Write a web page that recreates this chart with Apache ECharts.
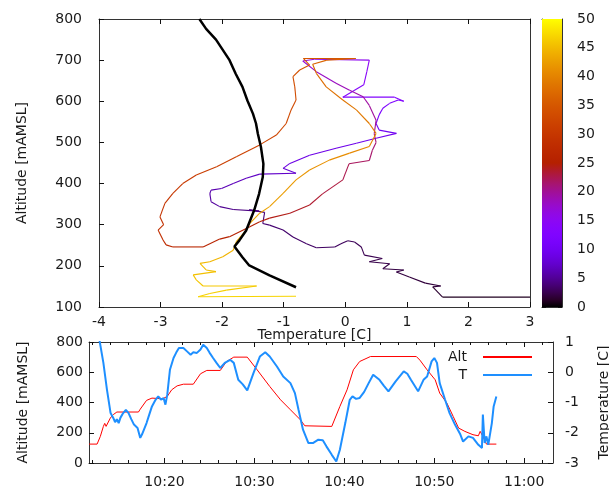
<!DOCTYPE html>
<html><head><meta charset="utf-8">
<script src="https://cdn.jsdelivr.net/npm/echarts@6/dist/echarts.min.js"></script>
<style>html,body{margin:0;padding:0;background:#fff}#c{width:609px;height:491px}</style>
</head><body><div id="c"></div>
<script>
// ---------------- data ----------------
// top panel: flight trajectory (temperature, altitude, minutes since start -> colour)
const trajT = [3.00,1.58,1.42,1.55,1.30,1.04,0.83,0.95,0.61,0.72,0.39,0.60,0.31,0.26,0.15,0.04,-0.07,-0.17,-0.47,-0.63,
  -0.85,-1.01,-1.23,-1.34,-1.31,-1.56,-1.40,-1.82,-2.04,-2.18,-2.20,-2.18,-2.01,-1.82,-1.61,-1.39,-0.80,-1.01,-0.90,-0.58,
  -0.15,0.18,0.50,0.83,0.55,0.50,0.55,0.61,0.72,0.86,0.95,0.80,-0.04,0.30,0.35,0.39,-0.50,-0.69,-0.47,-0.15,
  0.07,0.29,0.39,0.50,0.47,0.50,0.44,0.39,0.06,-0.04,-0.37,-0.58,-0.90,-1.23,-1.39,-1.55,-1.88,-2.04,-2.31,-2.80,
  -2.91,-2.96,-3.04,-2.95,-3.01,-2.93,-2.80,-2.64,-2.42,-2.09,-1.77,-1.39,-1.12,-0.96,-0.88,-0.80,-0.82,-0.85,-0.74,-0.58,
  -0.68,0.17,-0.30,-0.53,-0.47,-0.31,-0.04,0.18,0.39,0.50,0.39,0.07,-0.26,-0.58,-0.80,-1.01,-1.23,-1.39,-1.55,-1.61,
  -1.77,-1.82,-1.99,-2.20,-2.36,-2.26,-2.10,-2.47,-2.42,-2.31,-1.44,-1.93,-2.20,-2.39,-0.80];
const trajAlt = [124,124,149,151,158,173,185,190,193,205,210,218,226,246,258,261,254,246,244,254,
  270,287,299,303,330,336,333,337,344,356,376,384,388,400,413,423,425,437,449,469,
  486,498,510,522,530,546,567,583,595,603,600,610,610,640,672,700,702,698,672,644,
  627,611,590,554,521,500,481,456,448,409,375,348,328,316,307,295,271,265,246,246,
  251,263,287,300,319,352,376,400,421,441,465,494,518,546,579,603,635,660,676,688,
  704,704,700,690,668,635,603,579,546,522,490,474,457,433,409,376,344,328,303,287,
  259,238,222,210,206,190,186,178,166,151,151,141,133,125,126];
const trajMin = [1.0,1.5,1.8,1.85,1.9,2.0,2.1,2.15,2.2,2.3,2.4,2.5,2.6,2.7,2.8,2.9,3.0,3.1,3.2,3.3,
  3.4,3.6,3.7,3.8,3.9,4.2,4.3,4.8,5.3,5.6,5.9,6.1,6.4,6.7,7.0,7.3,7.8,8.6,8.9,9.1,
  9.3,9.5,9.7,9.9,10.5,11.0,11.6,12.0,12.4,12.8,12.9,13.0,13.6,14.2,14.8,15.3,16.5,17.0,18.0,18.5,
  19.0,19.4,19.8,20.3,21.0,21.3,21.6,22.0,22.5,23.0,23.5,23.9,24.3,24.7,25.0,25.3,25.7,26.0,26.4,27.5,
  28.0,28.4,28.8,29.0,29.3,29.8,30.2,30.6,31.0,31.4,31.8,32.2,32.6,32.9,33.2,33.5,33.8,34.1,34.4,34.7,
  35.0,36.0,36.5,37.0,37.5,38.0,38.5,39.0,39.5,40.0,40.5,41.0,41.4,41.8,42.2,42.6,43.0,43.3,43.6,43.8,
  44.1,44.4,44.7,45.0,45.2,45.4,45.5,45.7,45.9,46.1,46.4,46.6,46.8,47.0,47.5];
// top panel: black reference profile
const profT = [-2.37,-2.26,-2.10,-1.88,-1.78,-1.67,-1.59,-1.50,-1.45,-1.42,-1.37,-1.33,-1.34,-1.40,-1.48,-1.61,-1.72,-1.80,-1.67,-1.56,-1.23,-0.80];
const profAlt = [800,776,750,700,667,635,602,570,546,521,489,448,416,375,335,286,262,247,221,201,177,148];
// bottom panel: altitude vs time (minutes of day)
const altTime = [611.6,612.5,612.86,613.2,613.35,613.5,613.97,614.3,614.7,617.1,617.3,618.0,618.6,619.8,620.3,620.8,621.4,622.1,623.2,624.0,
  624.7,626.2,626.9,627.7,629.2,630.3,631.7,632.9,634.0,635.1,635.6,638.6,639.5,640.3,641.0,641.7,642.9,648.0,648.4,649.2,
  650.1,650.6,651.4,652.1,652.7,653.4,654.3,654.9,655.1,655.4,655.8,656.9];
const altVals = [125,125,176,242,262,242,297,320,337,337,356,414,429,425,440,484,510,521,521,590,
  612,612,671,700,700,616,506,418,352,286,246,242,374,484,616,671,704,704,680,616,
  550,462,396,308,231,209,187,180,209,176,125,125];
// bottom panel: temperature vs time
const tTime = [612.5,612.8,613.2,613.6,614.0,614.3,614.5,614.7,614.9,615.1,615.4,615.7,616.0,616.3,616.6,617.0,617.3,617.5,617.7,618.0,
  618.3,618.6,619.0,619.3,619.6,619.9,620.1,620.3,620.6,621.0,621.3,621.6,622.1,622.5,622.9,623.2,623.6,624.0,624.3,624.7,
  625.0,625.4,625.8,626.2,626.7,627.3,627.7,628.2,628.7,629.2,629.9,630.6,631.2,631.7,632.5,633.2,634.0,634.5,634.9,635.4,
  636.0,636.5,637.1,637.6,638.0,638.6,639.1,639.5,640.1,640.6,640.9,641.3,641.7,642.2,642.7,643.2,643.9,644.4,644.9,645.7,
  646.6,647.0,647.4,648.2,648.8,649.2,649.7,650.0,650.3,650.6,651.2,651.7,652.3,652.9,653.2,653.8,654.3,654.9,655.3,655.4,
  655.6,655.8,656.0,656.4,656.6,656.9];
const tVals = [1.5,1.0,0.31,-0.58,-1.35,-1.51,-1.65,-1.55,-1.68,-1.50,-1.35,-1.24,-1.35,-1.55,-1.73,-1.84,-2.17,-2.05,-2.01,-1.68,
  -1.40,-1.13,-0.91,-0.80,-0.90,-0.86,-1.07,-0.75,0.08,0.47,0.65,0.80,0.80,0.69,0.58,0.66,0.64,0.75,0.91,0.80,
  0.65,0.47,0.30,0.14,0.31,0.41,0.31,-0.25,-0.40,-0.60,-0.02,0.52,0.66,0.52,0.19,-0.14,-0.36,-0.69,-1.24,-1.90,
  -2.34,-2.34,-2.23,-2.25,-2.45,-2.73,-2.95,-2.56,-1.68,-0.91,-0.80,-0.88,-0.85,-0.65,-0.36,-0.08,-0.25,-0.45,-0.63,-0.30,
  0.03,-0.05,-0.25,-0.63,-0.25,-0.14,0.36,0.47,0.31,-0.36,-0.91,-1.35,-1.73,-2.06,-2.29,-2.12,-2.17,-2.40,-2.50,-1.40,
  -2.34,-2.12,-2.40,-1.68,-1.13,-0.80];
// tick positions / labels
const timeMajorTicks = [620,630,640,650,660];
const timeMinorTicks = [612,614,616,618,620,622,624,626,628,630,632,634,636,638,640,642,644,646,648,650,652,654,656,658,660,662];
const seriesNames = ['Alt','T'];

// ---------------- helpers ----------------
function palette(x){ // gnuplot rgbformulae 7,5,15
  const r=Math.sqrt(x), g=x*x*x, b=Math.max(0,Math.sin(2*Math.PI*x));
  return 'rgb('+Math.round(r*255)+','+Math.round(g*255)+','+Math.round(b*255)+')';
}
const paletteStops=[]; for(let i=0;i<=40;i++) paletteStops.push(palette(i/40));
const gradStops=[]; for(let i=0;i<=40;i++) gradStops.push({offset:i/40,color:palette(1-i/40)});

const trajData=[]; for(let i=0;i<trajT.length-1;i++) trajData.push([trajT[i],trajAlt[i],trajMin[i],trajT[i+1],trajAlt[i+1]]);
const profData=profT.map((t,i)=>[t,profAlt[i]]);
const altData=altTime.map((t,i)=>[t,altVals[i]]);
const tData=tTime.map((t,i)=>[t,tVals[i]]);

const FONT='DejaVu Sans', FS=14, TXT='#1a1a1a', AX='#333';
const line={show:true,onZero:false,lineStyle:{color:AX,width:1}};
const noLine={show:false,onZero:false};
const tick=(len)=>({show:true,inside:true,length:len,lineStyle:{color:'#111'}});
const lab=(m)=>({show:true,margin:m,fontFamily:FONT,fontSize:FS,color:TXT});
const nameStyle={fontFamily:FONT,fontSize:FS,color:TXT};
const fmtTime=v=>{const h=Math.floor(v/60),m=Math.round(v-h*60);return h+':'+(m<10?'0':'')+m;};

const option={
  animation:false,
  backgroundColor:'#fff',
  grid:[
    {left:99,top:19,width:431,height:288,outerBoundsMode:'none',containLabel:false},
    {left:89,top:342,width:464,height:121,outerBoundsMode:'none',containLabel:false},
    {left:542,top:19,width:20,height:288,outerBoundsMode:'none',containLabel:false}
  ],
  visualMap:{type:'continuous',show:false,min:0,max:50,dimension:2,seriesIndex:0,inRange:{color:paletteStops}},
  legend:{data:seriesNames,orient:'vertical',right:71,top:345,align:'right',itemWidth:49,itemHeight:14,itemGap:4,
    itemStyle:{color:'transparent',borderColor:'transparent',borderWidth:0,opacity:0},
    textStyle:{fontFamily:FONT,fontSize:FS,color:TXT,padding:[0,11,0,0]}},
  xAxis:[
    {gridIndex:0,type:'value',position:'bottom',min:-4,max:3,interval:1,axisLine:line,axisTick:tick(5),axisLabel:lab(8),splitLine:{show:false},
      name:'Temperature [C]',nameLocation:'middle',nameGap:21,nameMoveOverlap:false,nameTextStyle:nameStyle},
    {gridIndex:0,type:'value',position:'top',min:-4,max:3,interval:1,axisLine:line,axisTick:tick(5),axisLabel:{show:false},splitLine:{show:false}},
    {gridIndex:1,type:'value',position:'bottom',min:611.6,max:663.2,axisLine:line,
      axisTick:Object.assign(tick(5),{customValues:timeMajorTicks}),
      axisLabel:Object.assign(lab(12),{customValues:timeMajorTicks,formatter:fmtTime}),splitLine:{show:false}},
    {gridIndex:1,type:'value',position:'bottom',min:611.6,max:663.2,axisLine:noLine,
      axisTick:Object.assign(tick(3),{customValues:timeMinorTicks}),axisLabel:{show:false},splitLine:{show:false}},
    {gridIndex:1,type:'value',position:'top',min:611.6,max:663.2,axisLine:line,
      axisTick:Object.assign(tick(5),{customValues:timeMajorTicks}),axisLabel:{show:false},splitLine:{show:false}},
    {gridIndex:1,type:'value',position:'top',min:611.6,max:663.2,axisLine:noLine,
      axisTick:Object.assign(tick(3),{customValues:timeMinorTicks}),axisLabel:{show:false},splitLine:{show:false}},
    {gridIndex:2,type:'value',position:'bottom',min:0,max:1,axisLine:line,axisTick:{show:false},axisLabel:{show:false},splitLine:{show:false}},
    {gridIndex:2,type:'value',position:'top',min:0,max:1,axisLine:line,axisTick:{show:false},axisLabel:{show:false},splitLine:{show:false}}
  ],
  yAxis:[
    {gridIndex:0,type:'value',position:'left',min:100,max:800,interval:100,axisLine:line,axisTick:tick(5),axisLabel:lab(17),splitLine:{show:false},
      name:'Altitude [mAMSL]',nameLocation:'middle',nameRotate:90,nameGap:70,nameMoveOverlap:false,nameTextStyle:nameStyle},
    {gridIndex:0,type:'value',position:'right',min:100,max:800,interval:100,axisLine:line,axisTick:{show:false},axisLabel:{show:false},splitLine:{show:false}},
    {gridIndex:1,type:'value',position:'left',min:0,max:800,interval:200,axisLine:line,axisTick:tick(5),axisLabel:lab(6),splitLine:{show:false},
      name:'Altitude [mAMSL]',nameLocation:'middle',nameRotate:90,nameGap:59,nameMoveOverlap:false,nameTextStyle:nameStyle},
    {gridIndex:1,type:'value',position:'right',min:-3,max:1,interval:1,axisLine:line,axisTick:tick(5),axisLabel:lab(12),splitLine:{show:false},
      name:'Temperature [C]',nameLocation:'middle',nameRotate:90,nameGap:44,nameMoveOverlap:false,nameTextStyle:nameStyle},
    {gridIndex:2,type:'value',position:'right',min:0,max:50,interval:5,axisLine:line,axisTick:tick(4),axisLabel:lab(15),splitLine:{show:false}},
    {gridIndex:2,type:'value',position:'left',min:0,max:50,interval:5,axisLine:line,axisTick:tick(4),axisLabel:{show:false},splitLine:{show:false}}
  ],
  series:[
    {type:'custom',name:'traj',xAxisIndex:0,yAxisIndex:0,data:trajData,clip:true,encode:{x:[0,3],y:[1,4]},
      renderItem:function(params,api){
        const p1=api.coord([api.value(0),api.value(1)]);
        const p2=api.coord([api.value(3),api.value(4)]);
        return {type:'line',shape:{x1:p1[0],y1:p1[1],x2:p2[0],y2:p2[1]},style:{stroke:api.visual('color'),lineWidth:1.1}};
      }},
    {type:'line',name:'profile',xAxisIndex:0,yAxisIndex:0,data:profData,symbol:'none',lineStyle:{color:'#000',width:2.5},itemStyle:{color:'#000'}},
    {type:'custom',name:'colorbar',xAxisIndex:6,yAxisIndex:4,data:[[0,0]],
      renderItem:function(params,api){
        const a=api.coord([0,50]), b=api.coord([1,0]);
        return {type:'rect',shape:{x:a[0],y:a[1],width:b[0]-a[0],height:b[1]-a[1]},
          style:{fill:new echarts.graphic.LinearGradient(0,0,0,1,gradStops)}};
      }},
    {type:'line',name:seriesNames[0],xAxisIndex:2,yAxisIndex:2,data:altData,symbol:'none',lineStyle:{color:'#f00',width:1},itemStyle:{color:'#f00'}},
    {type:'line',name:seriesNames[1],xAxisIndex:2,yAxisIndex:3,data:tData,symbol:'none',clip:true,lineStyle:{color:'#1e8fff',width:2},itemStyle:{color:'#1e8fff'}}
  ]
};
const chart=echarts.init(document.getElementById('c'),null,{renderer:'canvas'});
chart.setOption(option);
</script></body></html>
